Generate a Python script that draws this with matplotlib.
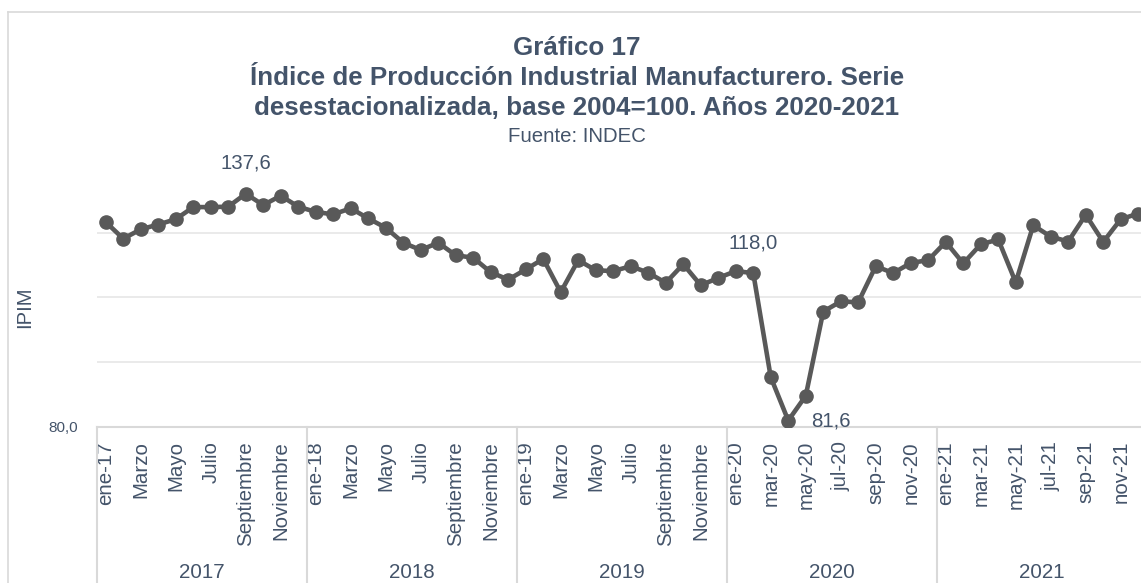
import numpy as np
import matplotlib
matplotlib.use("Agg")
import matplotlib.pyplot as plt
from matplotlib.lines import Line2D

# IPIM desestacionalizado, ene-2017 .. dic-2021
ipim = [130.6, 126.5, 128.8, 130.0, 131.3, 134.3, 134.3, 134.4, 137.6, 134.8, 137.1, 134.4,
        133.1, 132.5, 134.0, 131.5, 129.2, 125.5, 123.7, 125.5, 122.4, 121.8, 118.2, 116.4,
        118.9, 121.5, 113.3, 121.2, 118.7, 118.5, 119.7, 118.1, 115.6, 120.2, 115.0, 116.8,
        118.5, 118.0, 92.3, 81.6, 87.7, 108.5, 111.0, 110.8, 119.7, 118.0, 120.5, 121.2,
        125.7, 120.4, 125.1, 126.3, 115.7, 129.8, 127.0, 125.8, 132.4, 125.7, 131.3, 132.7]
years = ["2017", "2018", "2019", "2020", "2021"]
month_labels_long = ["ene", "Marzo", "Mayo", "Julio", "Septiembre", "Noviembre"]
month_labels_short = ["ene", "mar", "may", "jul", "sep", "nov"]
labelled = {8: "137,6", 37: "118,0", 39: "81,6"}

TXT = "#44546A"
LINE = "#595959"
W, H = 1141, 583

plt.rcParams["font.family"] = ["Liberation Sans", "DejaVu Sans"]

fig = plt.figure(figsize=(W / 100, H / 100), dpi=100)
ax = fig.add_axes([97 / W, 156 / H, 1050 / W, 259.2 / H])

x = np.arange(len(ipim)) + 0.5
ax.plot(x, ipim, "o-", color=LINE, lw=3.3, ms=9.5, zorder=3)

ax.set_xlim(0, len(ipim))
ax.set_ylim(80, 144)
for g in (96, 112, 128):
    ax.axhline(g, color="#e8e8e8", lw=1.3, zorder=1)

for s in ("top", "right", "left"):
    ax.spines[s].set_visible(False)
ax.spines["bottom"].set_color("#d9d9d9")
ax.spines["bottom"].set_linewidth(1.5)

ax.set_yticks([80])
ax.set_yticklabels(["80,0"], fontsize=11, color=TXT)
ax.tick_params(axis="y", length=0, pad=14)

# etiquetas de meses (cada dos meses)
ticks, labels = [], []
for k, yr in enumerate(years):
    names = month_labels_long if k < 3 else month_labels_short
    for j, nm in enumerate(names):
        ticks.append(k * 12 + 2 * j + 0.5)
        if j == 0 or k >= 3:
            labels.append(f"{nm}-{yr[2:]}")
        else:
            labels.append(nm)
ax.set_xticks(ticks)
ax.set_xticklabels(labels, rotation=90, fontsize=14.8, color=TXT)
ax.tick_params(axis="x", length=0, pad=10)

# separadores y etiquetas de año
tr = ax.get_xaxis_transform()
for k in range(len(years) + 1):
    ax.plot([k * 12, k * 12], [0, -0.8], transform=tr, color="#d9d9d9", lw=1.5, clip_on=False)
for k, yr in enumerate(years):
    ax.text(k * 12 + 6, -0.56, yr, transform=tr, ha="center", va="center",
            fontsize=14.8, color=TXT)

# etiquetas de datos
for i, txt in labelled.items():
    if i == 39:
        ax.annotate(txt, (x[i], ipim[i]), xytext=(16.5, 0), textcoords="offset points",
                    ha="left", va="center", fontsize=14.7, color=TXT)
    else:
        ax.annotate(txt, (x[i], ipim[i]), xytext=(0, 22), textcoords="offset points",
                    ha="center", va="center", fontsize=14.7, color=TXT)

fig.text(25 / W, 1 - 307 / H, "IPIM", rotation=90, ha="center", va="center",
         fontsize=14.6, color=TXT)

cx = 577 / W
fig.text(cx, 1 - 48 / H, "Gráfico 17", ha="center", va="center",
         fontsize=18.7, fontweight="bold", color=TXT)
fig.text(cx, 1 - 78 / H, "Índice de Producción Industrial Manufacturero. Serie",
         ha="center", va="center", fontsize=18.7, fontweight="bold", color=TXT)
fig.text(cx, 1 - 108 / H, "desestacionalizada, base 2004=100. Años 2020-2021",
         ha="center", va="center", fontsize=18.7, fontweight="bold", color=TXT)
fig.text(cx, 1 - 137 / H, "Fuente: INDEC", ha="center", va="center",
         fontsize=14.7, color=TXT)

# borde del área del gráfico
fig.add_artist(Line2D([8 / W, 8 / W], [1 - 12 / H, 0], color="#d9d9d9", lw=1.2))
fig.add_artist(Line2D([8 / W, 1], [1 - 12 / H, 1 - 12 / H], color="#d9d9d9", lw=1.2))

fig.savefig("out.png", dpi=100)
